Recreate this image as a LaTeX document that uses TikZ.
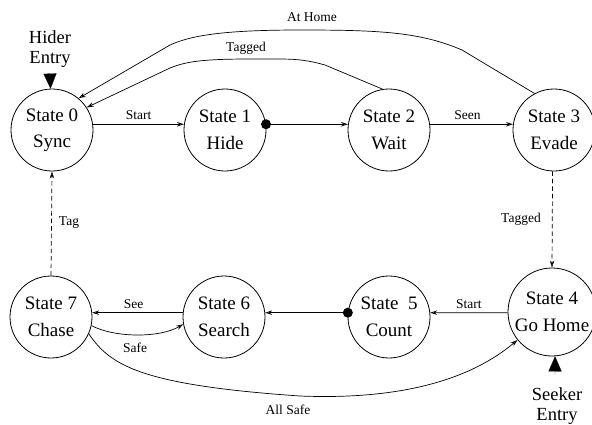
\documentclass[tikz,border=0pt]{standalone}
\usepackage{fontspec}
\setmainfont{Liberation Serif}
\usetikzlibrary{arrows.meta}
\begin{document}
\begin{tikzpicture}[x=1pt,y=-1pt,
  state/.style={draw, circle, line width=0.8pt, minimum size=82pt, inner sep=0pt, align=center, font=\fontsize{19}{26.5}\selectfont},
  bigstate/.style={state, minimum size=88pt},
  lbl/.style={font=\fontsize{13.5}{15}\selectfont, inner sep=0pt},
  entrytext/.style={align=center, font=\fontsize{18.5}{20}\selectfont, inner sep=0pt},
  trans/.style={line width=0.7pt, -{Stealth[length=7pt,width=4.5pt,open]}},
  dtrans/.style={trans, dash pattern=on 4.5pt off 3pt},
  entry/.style={-{Triangle[length=15pt,width=13pt]}, line width=0.1pt},
  dot/.style={fill=black}
]
\useasboundingbox (0,0) rectangle (592,424);

% states
\node[state] (s0) at (52,130) {State 0\\Sync};
\node[state] (s1) at (225,130) {State 1\\Hide};
\node[state] (s2) at (389,130) {State 2\\Wait};
\node[state] (s3) at (554,130) {State 3\\Evade};
\node[bigstate] (s4) at (552,312) {State 4\\Go Home};
\node[state] (s5) at (389,317) {State\ \ 5\\Count};
\node[state] (s6) at (224,317) {State 6\\Search};
\node[state] (s7) at (51,317) {State 7\\Chase};

% entry labels
\node[entrytext] (hider) at (50,49) {Hider\\Entry};
\node[entrytext] (seeker) at (557,406) {Seeker\\Entry};
\coordinate (hk) at (50,74);
\coordinate (sk) at (555,374);
\draw[entry] (hk) -- (s0.92);
\draw[entry] (sk) -- (s4.-86);

% top row
\draw[trans] (s0.8) -- node[lbl, above=4pt] (lStart) {Start} (s1.172);
\fill[dot] (s1.8) circle[radius=5pt];
\draw[trans] (s1.8) -- (s2.172);
\draw[trans] (s2.8) -- node[lbl, above=4pt, xshift=-4pt] (lSeen) {Seen} (s3.172);

% back arcs
\draw[trans] (s2.99) -- (325,65) .. controls (300,58) and (290,59) .. (250,59)
  .. controls (200,59) and (185,62) .. (170,68) -- (s0.33);
\node[lbl] (lTagged) at (246,48) {Tagged};
\draw[trans] (s3.118) -- (462,50) .. controls (420,32) and (380,30) .. (300,30)
  .. controls (220,30) and (190,36) .. (170,45) -- (s0.50);
\node[lbl] (lHome) at (312,17) {At Home};

% verticals
\draw[dtrans] (s3.-92) -- (s4.north);
\node[lbl] (lTagged2) at (521,219) {Tagged};
\draw[dtrans] (s7.north) -- (s0.south);
\node[lbl] (lTag) at (69,223) {Tag};

% bottom row
\draw[trans] (s4.181) -- node[lbl, above=4pt] (lStart2) {Start} (s5.6);
\fill[dot] (s5.174) circle[radius=5pt];
\draw[trans] (s5.174) -- (s6.6);
\draw[trans] (s6.174) -- node[lbl, above=4pt, xshift=-4pt] (lSee) {See} (s7.6);
\draw[trans] (s7.-12) .. controls (115,338) and (160,338) .. (s6.190);
\node[lbl] (lSafe) at (135,348) {Safe};
\draw[trans] (s7.-24) .. controls (110,365) and (140,385) .. (300,396)
  .. controls (400,400) and (470,380) .. (s4.219);
\node[lbl] (lAllSafe) at (288,410) {All Safe};
\end{tikzpicture}
\end{document}
